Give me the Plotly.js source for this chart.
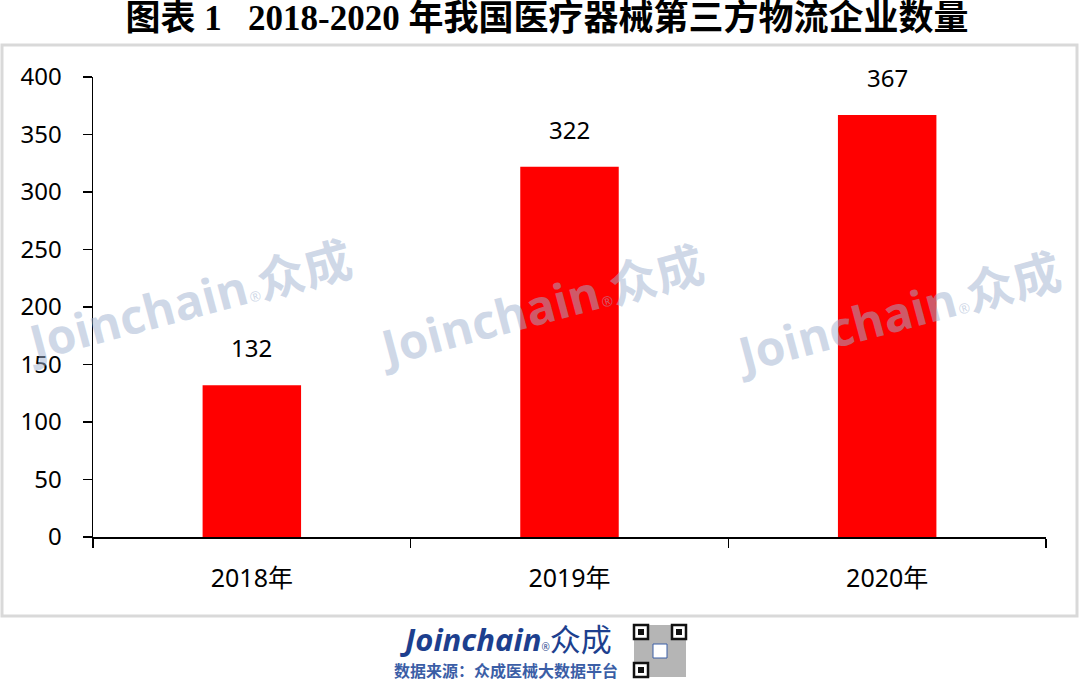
<!DOCTYPE html>
<html><head><meta charset="utf-8">
<script src="https://cdn.plot.ly/plotly-3.0.1.min.js"></script>
<style>html,body{margin:0;padding:0;background:#fff}#c{width:1080px;height:682px}</style>
</head><body><div id="c"></div>
<script>
const categories = ["2018年", "2019年", "2020年"];
const values = [132, 322, 367];
const yTicks = [0, 50, 100, 150, 200, 250, 300, 350, 400];
const titleText = "图表 1&nbsp;&nbsp;&nbsp;2018-2020 年我国医疗器械第三方物流企业数量";
const sourceText = "数据来源：众成医械大数据平台";

const W = 1080, H = 682, L = 93, R = 34, T = 77, B = 145;
const pw = W - L - R, ph = H - T - B;
const px = x => (x - L) / pw;
const py = y => (H - B - y) / ph;

const font = "'Noto Sans', 'Noto Sans CJK SC', sans-serif";

const annotations = values.map((v, i) => ({
  x: categories[i], y: v, xref: 'x', yref: 'y', text: String(v),
  showarrow: false, yanchor: 'bottom', yshift: 19,
  font: {family: font, size: 24, color: '#000'}
}));

const wm = [[188, 300], [540, 305], [897, 312]];
wm.forEach(([cx, cy]) => annotations.push({
  xref: 'paper', yref: 'paper', x: px(cx), y: py(cy), showarrow: false,
  textangle: -15, xanchor: 'center', yanchor: 'middle',
  text: "<b>Joinchain</b><span style='font-size:14px'>®</span><b>众成</b>",
  font: {family: "'Open Sans', 'Noto Sans CJK SC', sans-serif", size: 48, color: 'rgba(160,178,208,0.5)'}
}));

// footer
annotations.push({
  xref: 'paper', yref: 'paper', x: px(506), y: py(639), showarrow: false,
  xanchor: 'center', yanchor: 'middle',
  text: "<b><i>Joinchain</i></b><span style='font-size:10px'>®</span>众成",
  font: {family: "'Open Sans', 'Noto Sans CJK SC', sans-serif", size: 31, color: '#1d3f8e'}
});
annotations.push({
  xref: 'paper', yref: 'paper', x: px(506), y: py(670), showarrow: false,
  xanchor: 'center', yanchor: 'middle',
  text: "<b>" + sourceText + "</b>",
  font: {family: "'Noto Sans CJK SC', sans-serif", size: 16, color: '#3b5ea6'}
});

const shapes = [
  {type: 'rect', xref: 'paper', yref: 'paper', x0: px(2), x1: px(1077), y0: py(45), y1: py(616),
   line: {color: '#d9d9d9', width: 3}, layer: 'below'}
];
// QR-like decoration
const qx = 634, qy = 625, qs = 52;
shapes.push({type: 'rect', xref: 'paper', yref: 'paper', x0: px(qx), x1: px(qx + qs), y0: py(qy), y1: py(qy + qs),
  fillcolor: 'rgba(120,120,120,0.55)', line: {width: 0}});
[[qx, qy], [qx + qs - 14, qy], [qx, qy + qs - 14]].forEach(([a, b]) => {
  shapes.push({type: 'rect', xref: 'paper', yref: 'paper', x0: px(a), x1: px(a + 14), y0: py(b), y1: py(b + 14),
    fillcolor: '#fff', line: {color: '#111', width: 2.5}});
  shapes.push({type: 'rect', xref: 'paper', yref: 'paper', x0: px(a + 4), x1: px(a + 10), y0: py(b + 4), y1: py(b + 10),
    fillcolor: '#111', line: {width: 0}});
});
shapes.push({type: 'rect', xref: 'paper', yref: 'paper', x0: px(qx + 19), x1: px(qx + 33), y0: py(qy + 19), y1: py(qy + 33),
  fillcolor: '#fff', line: {color: '#3b5ea6', width: 1}});

const data = [{
  type: 'bar', x: categories, y: values,
  marker: {color: '#ff0000', line: {width: 0}},
  hoverinfo: 'none'
}];

const layout = {
  width: W, height: H,
  margin: {l: L, r: R, t: T, b: B},
  paper_bgcolor: '#fff', plot_bgcolor: 'rgba(0,0,0,0)',
  showlegend: false, bargap: 0.69,
  title: {text: "<b>" + titleText + "</b>", x: 547 / W, xanchor: 'center', xref: 'container',
    y: 1 - 18 / H, yanchor: 'middle', yref: 'container',
    font: {family: "'Liberation Serif', 'Noto Sans CJK SC', serif", size: 35, color: '#000'}},
  xaxis: {
    type: 'category', showgrid: false, zeroline: false,
    showline: true, linecolor: '#000', linewidth: 1.5,
    ticks: 'outside', tickson: 'boundaries', ticklen: 9, tickwidth: 1.5, tickcolor: '#000',
    tickfont: {family: font, size: 25, color: '#000'}, ticklabelstandoff: 18,
    fixedrange: true
  },
  yaxis: {
    range: [0, 400], tickvals: yTicks, ticktext: yTicks.map(String),
    showgrid: false, zeroline: false,
    showline: true, linecolor: '#000', linewidth: 1.5,
    ticks: 'outside', ticklen: 9, tickwidth: 1.5, tickcolor: '#000',
    tickfont: {family: font, size: 24, color: '#000'}, ticklabelstandoff: 16,
    fixedrange: true
  },
  annotations: annotations,
  shapes: shapes
};

Plotly.newPlot('c', data, layout, {displayModeBar: false, staticPlot: true});
</script></body></html>
